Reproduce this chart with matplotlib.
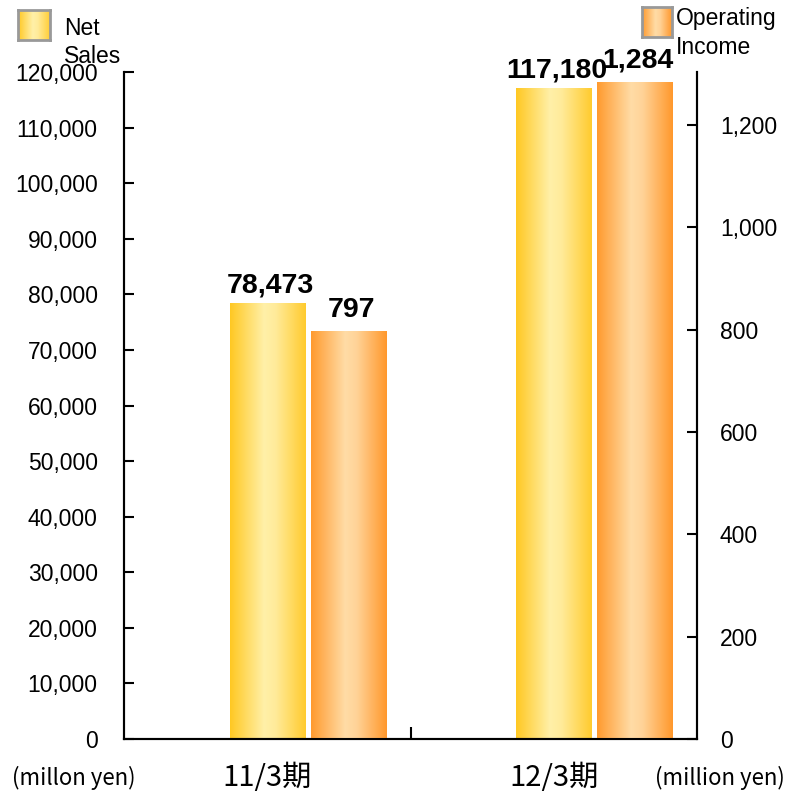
import numpy as np
import matplotlib.pyplot as plt
from matplotlib.colors import LinearSegmentedColormap

# data
categories = ['11/3期', '12/3期']
net_sales = [78473, 117180]          # million yen (left axis)
operating_income = [797, 1284]       # million yen (right axis)
left_ticks = list(range(0, 120001, 10000))
right_ticks = list(range(0, 1201, 200))

txt_font = 'Liberation Sans'
jp_font = ['Noto Sans CJK JP', 'DejaVu Sans']

cm_sales = LinearSegmentedColormap.from_list(
    'sales', [(0, '#ffc822'), (0.45, '#fff0a8'), (0.6, '#ffeb9a'), (1, '#ffcb2e')])
cm_oi = LinearSegmentedColormap.from_list(
    'oi', [(0, '#ff9a2e'), (0.45, '#ffdca6'), (0.6, '#ffd398'), (1, '#ff982c')])
grad = np.linspace(0, 1, 256).reshape(1, -1)


def fill_gradient(ax, bars, cmap):
    for b in bars:
        x0, y0 = b.get_x(), b.get_y()
        im = ax.imshow(grad, cmap=cmap, aspect='auto', zorder=2,
                       extent=[x0, x0 + b.get_width(), y0, y0 + b.get_height()])
        im.set_clip_path(b)


fig = plt.figure(figsize=(7.89, 7.95), dpi=100)
ax = fig.add_axes([0.1572, 0.0704, 0.7262, 0.839])
ax2 = ax.twinx()

x = np.arange(len(categories))
w = 0.262
b1 = ax.bar(x, net_sales, w, color='none', edgecolor='none')
b2 = ax2.bar(x + 0.283, operating_income, w, color='none', edgecolor='none')
fill_gradient(ax, b1, cm_sales)
fill_gradient(ax2, b2, cm_oi)

ax.set_xlim(-0.5, 1.5)
ax.set_ylim(0, 120000)
ax2.set_ylim(0, 1303)

for a in (ax, ax2):
    for s in a.spines.values():
        s.set_linewidth(1.5)
    a.spines['top'].set_visible(False)

ax.set_yticks(left_ticks)
ax.set_yticklabels([f'{v:,}' for v in left_ticks], fontsize=16.5, fontfamily=txt_font)
ax.tick_params(axis='y', direction='in', length=7, width=1.5, pad=19)
ax2.set_yticks(right_ticks)
ax2.set_yticklabels([f'{v:,}' for v in right_ticks], fontsize=16.5, fontfamily=txt_font)
ax2.tick_params(axis='y', direction='in', length=7, width=1.5, pad=16.5)

ax.set_xticks(x)
ax.set_xticklabels(categories, fontsize=21, fontfamily=jp_font)
ax.tick_params(axis='x', length=0, pad=17)
ax.set_xticks([0.5], minor=True)
ax.tick_params(axis='x', which='minor', direction='in', length=9, width=1.5)

for b, v in zip(b1, net_sales):
    ax.annotate(f'{v:,}', (b.get_x() + b.get_width() / 2 + 0.01, v), xytext=(0, 3),
                textcoords='offset points', ha='center', va='bottom',
                fontsize=20.5, fontweight='bold', fontfamily=txt_font)
for b, v in zip(b2, operating_income):
    ax2.annotate(f'{v:,}', (b.get_x() + b.get_width() / 2 + 0.01, v), xytext=(0, 6),
                 textcoords='offset points', ha='center', va='bottom',
                 fontsize=20.5, fontweight='bold', fontfamily=txt_font)

# unit labels
fig.text(0.094, 0.021, '(millon yen)', ha='center', va='center', fontsize=16, fontfamily=jp_font)
fig.text(0.913, 0.021, '(million yen)', ha='center', va='center', fontsize=16, fontfamily=jp_font)

# legend boxes
for rect, cmap in (([0.0228, 0.9497, 0.0406, 0.0377], cm_sales),
                   ([0.8137, 0.9535, 0.0380, 0.0377], cm_oi)):
    lax = fig.add_axes(rect)
    lax.imshow(grad, cmap=cmap, aspect='auto')
    lax.set_xticks([])
    lax.set_yticks([])
    for s in lax.spines.values():
        s.set_edgecolor('#999999')
        s.set_linewidth(2)
fig.text(0.081, 0.979, 'Net\nSales', ha='left', va='top', fontsize=16.5,
         fontfamily=txt_font, linespacing=1.3)
fig.text(0.857, 0.991, 'Operating\nIncome', ha='left', va='top', fontsize=16.5,
         fontfamily=txt_font, linespacing=1.35)

fig.savefig('out.png', dpi=100)
